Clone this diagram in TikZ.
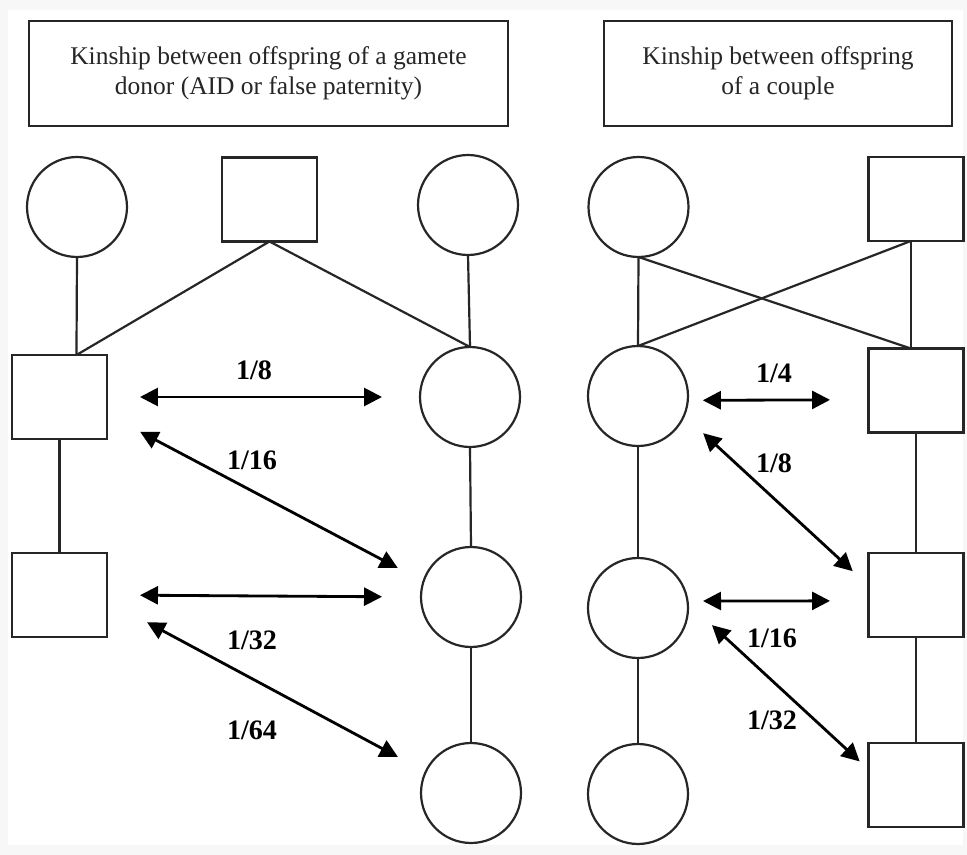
\documentclass[tikz,border=0pt]{standalone}
\usepackage{fontspec}
\setmainfont{Liberation Serif}
\usetikzlibrary{arrows.meta}

\tikzset{
    female/.style={draw=black!85, line width=1.25pt, circle, minimum size=2cm, inner sep=0pt, outer sep=0pt},
    male/.style={draw=black!85, line width=1.25pt, rectangle, minimum width=1.9cm, minimum height=1.68cm, inner sep=0pt, outer sep=0pt},
    titlebox/.style={draw=black!85, line width=1.6pt, minimum height=2.1cm, inner sep=0pt, align=center,
        font=\fontsize{14.5}{17}\selectfont, text=black!85},
    descent/.style={draw=black!85, line width=1.25pt},
    kin/.style={line width=1.6pt, {Triangle[length=0.36cm,width=0.36cm]}-{Triangle[length=0.36cm,width=0.36cm]}},
    kinlabel/.style={font=\fontsize{16}{19}\selectfont\bfseries, inner sep=0pt}
}

\begin{document}
\begin{tikzpicture}[x=0.02cm, y=-0.02cm]

        % page
        \fill[gray!6] (0,0) rectangle (967,855);
        \fill[white] (8,10) rectangle (963,845);

        % headings
        \node[titlebox, minimum width=9.58cm] (tdonor) at (268.5,73.5) {Kinship between offspring of a gamete\\donor (AID or false paternity)};
        \node[titlebox, minimum width=6.96cm] (tcouple) at (778,73.5) {Kinship between offspring\\of a couple};

        \foreach \n/\x/\y in {%
            m1/77/207,
            m2/468/205,
            b1/470/397,
            b2/471/597,
            b3/471/793,
            p1/638.5/207,
            c1/638/396,
            c2/638/608,
            c3/638/794%
        }{
            \node[female] (\n) at (\x, \y) {};
        }

        \foreach \n/\x/\y in {%
            don/269.5/199.5,
            a1/59.5/397,
            a2/59.5/595,
            p2/916/199,
            s1/916/390.5,
            s2/916/595,
            s3/916/785%
        }{
            \node[male] (\n) at (\x, \y) {};
        }

        % descent lines
        \foreach \a/\b in {%
            m1.south/a1.68,
            don.south/a1.68,
            don.south/b1.north,
            m2.south/b1.north,
            a1.south/a2.north,
            b1.south/b2.north,
            b2.south/b3.north,
            p1.south/c1.north,
            p1.south/s1.97,
            p2.263/c1.north,
            p2.263/s1.97,
            c1.south/c2.north,
            c2.south/c3.north,
            s1.south/s2.north,
            s2.south/s3.north%
        }{
            \draw[descent] (\a) -- (\b);
        }

        % kinship arrows
        \foreach \a/\b/\s/\e in {%
            a1.east/b1.west/.66/.76,
            a1.-20/b2.162/.75/.58,
            a2.east/b2.west/.66/.78,
            a2.-7/b3.155/.91/.63,
            c1.-5/s1.191/.30/.77,
            c1.-23/s2.169/.52/.43,
            c2.8/s2.187/.31/.77,
            c2.6/s3.162/.66/.24%
        }{
            \draw[kin, shorten <=\s cm, shorten >=\e cm] (\a) -- (\b);
        }

        \node[kinlabel] (k8) at (254,370) {1/8};
        \node[kinlabel] (k16) at (252,460) {1/16};
        \node[kinlabel] (k32) at (252,640) {1/32};
        \node[kinlabel] (k64) at (252,730) {1/64};
        \node[kinlabel] (q4) at (774,373) {1/4};
        \node[kinlabel] (q8) at (774,463) {1/8};
        \node[kinlabel] (q16) at (772,638) {1/16};
        \node[kinlabel] (q32) at (772,720) {1/32};

    \end{tikzpicture}
\end{document}
